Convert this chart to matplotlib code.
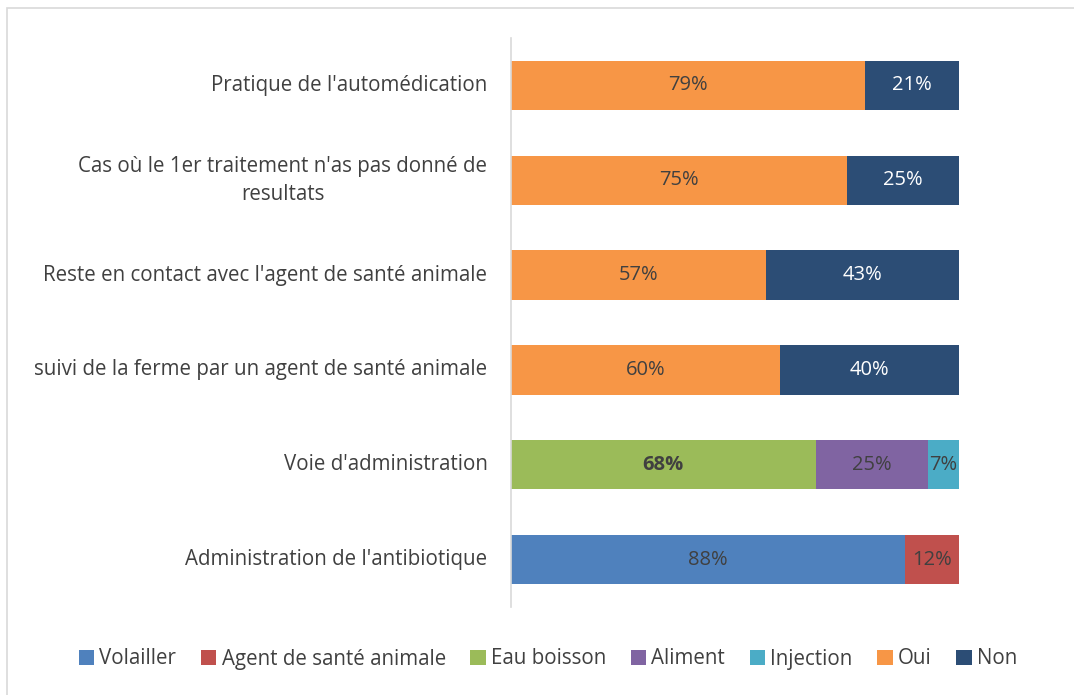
import matplotlib
matplotlib.use("Agg")
import matplotlib.pyplot as plt
from matplotlib.patches import Rectangle, Patch

plt.rcParams['font.family'] = ['Open Sans', 'DejaVu Sans']

categories = [
    "Administration de l'antibiotique",
    "Voie d'administration",
    "suivi de la ferme par un agent de santé animale",
    "Reste en contact avec l'agent de santé animale",
    "Cas où le 1er traitement n'as pas donné de\nresultats",
    "Pratique de l'automédication",
]
series_names = ["Volailler", "Agent de santé animale", "Eau boisson", "Aliment", "Injection", "Oui", "Non"]
volailler = [88, 0, 0, 0, 0, 0]
agent = [12, 0, 0, 0, 0, 0]
eau_boisson = [0, 68, 0, 0, 0, 0]
aliment = [0, 25, 0, 0, 0, 0]
injection = [0, 7, 0, 0, 0, 0]
oui = [0, 0, 60, 57, 75, 79]
non = [0, 0, 40, 43, 25, 21]

series = [volailler, agent, eau_boisson, aliment, injection, oui, non]
colors = ["#4F81BD", "#C0504D", "#9BBB59", "#8064A2", "#4BACC6", "#F79646", "#2C4D75"]
label_colors = ["#404040", "#404040", "#404040", "#404040", "#404040", "#404040", "white"]
bold = [False, False, True, False, False, False, False]

W, H = 1074, 695
fig = plt.figure(figsize=(W / 100, H / 100), dpi=100)
fig.patches.append(Rectangle((7 / W, -0.01), 1.1, (H - 8) / H + 0.01, transform=fig.transFigure,
                             fill=False, edgecolor="#D9D9D9", linewidth=1.2))

ax = fig.add_axes([511 / W, 88 / H, 448 / W, 569 / H])
y = list(range(len(categories)))
left = [0] * len(categories)
for s, c, lc, b in zip(series, colors, label_colors, bold):
    ax.barh(y, s, left=left, height=0.52, color=c, linewidth=0)
    for i, v in enumerate(s):
        if v > 0:
            ax.text(left[i] + v / 2, y[i], f"{v}%", ha="center", va="center", fontsize=14.5,
                    color=lc, fontweight="bold" if b else "normal")
    left = [l + v for l, v in zip(left, s)]

ax.set_xlim(0, 100)
ax.set_ylim(-0.5, len(categories) - 0.5)
ax.set_yticks(y)
ax.set_yticklabels(categories, fontsize=14.8, color="#404040", multialignment="center",
                   linespacing=1.45, va="center")
ax.tick_params(axis="y", length=0, pad=17)
ax.set_xticks([])
for sp in ["top", "right", "bottom"]:
    ax.spines[sp].set_visible(False)
ax.spines["left"].set_color("#D9D9D9")
ax.spines["left"].set_linewidth(1.2)

handles = [Patch(facecolor=c, edgecolor="none") for c in colors]
fig.legend(handles, series_names, loc="center", bbox_to_anchor=(548 / W, 1 - 659 / H), ncol=7,
           frameon=False, fontsize=14.8, handlelength=0.75, handleheight=0.75, handletextpad=0.25,
           columnspacing=1.2, labelcolor="#404040")

fig.savefig("out.png", dpi=100)
